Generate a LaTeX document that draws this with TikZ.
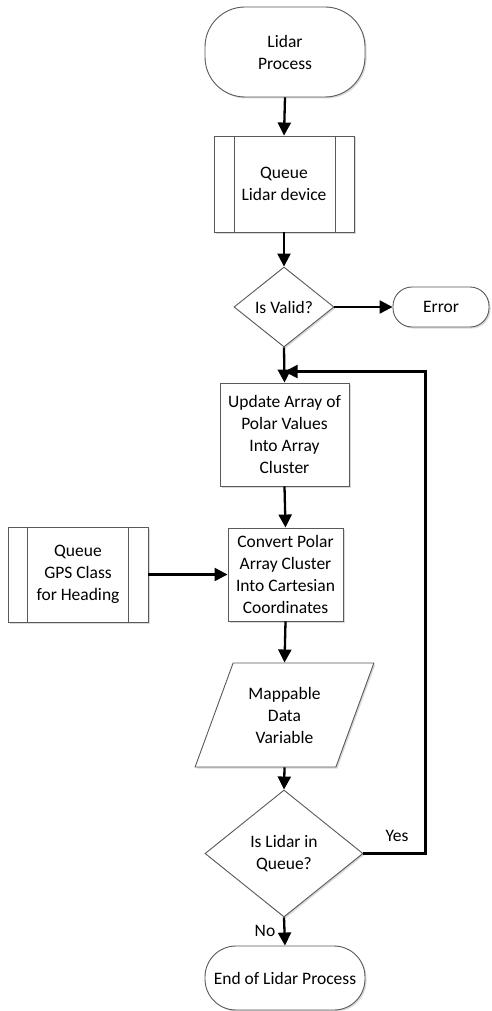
\documentclass[tikz,border=0pt]{standalone}
\usepackage{fontspec}
\setmainfont{Carlito}
\usetikzlibrary{arrows.meta,shapes.geometric,shadows,calc}
\begin{document}
\begin{tikzpicture}[x=1pt,y=-1pt,
  every node/.style={font=\fontsize{17.5}{22}\selectfont, text=black},
  shp/.style={draw=black!65, line width=0.9pt, fill=white, align=center, inner sep=2pt,
    drop shadow={shadow xshift=1.5pt, shadow yshift=-1.5pt, opacity=0.25, fill=black!60}},
  term/.style={shp, rectangle},
  procbox/.style={shp, rectangle},
  decis/.style={shp, diamond, aspect=1.25},
  iobox/.style={shp, trapezium, trapezium left angle=65, trapezium right angle=115, trapezium stretches=true},
  arr/.style={line width=2.3pt, -{Triangle[length=13pt,width=13pt]}},
  inner/.style={draw=black!65, line width=0.9pt}
]
\useasboundingbox (0,0) rectangle (491,1011);

\node[term, rounded corners=40pt, minimum width=160pt, minimum height=90pt] (start) at (285,52) {Lidar\\Process};
\node[procbox, minimum width=140pt, minimum height=96pt] (q1) at (284,184) {Queue\\Lidar device};
\draw[inner] ([xshift=21pt]q1.north west) -- ([xshift=21pt]q1.south west);
\draw[inner] ([xshift=-19pt]q1.north east) -- ([xshift=-19pt]q1.south east);
\node[decis, minimum width=100pt, minimum height=80pt] (valid) at (284,307) {Is Valid?};
\node[term, rounded corners=19pt, minimum width=96pt, minimum height=40pt] (err) at (441,307) {Error};
\node[procbox, minimum width=129pt, minimum height=103pt] (upd) at (284.5,434.5) {Update Array of\\Polar Values\\Into Array\\Cluster};
\node[procbox, minimum width=115pt, minimum height=93pt] (conv) at (285.5,574.5) {Convert Polar\\Array Cluster\\Into Cartesian\\Coordinates};
\node[procbox, minimum width=140pt, minimum height=95pt] (gps) at (78,574.5) {Queue\\GPS Class\\for Heading};
\draw[inner] ([xshift=20pt]gps.north west) -- ([xshift=20pt]gps.south west);
\draw[inner] ([xshift=-20pt]gps.north east) -- ([xshift=-20pt]gps.south east);
\node[iobox, minimum width=179pt, minimum height=104pt] (map) at (284.5,715) {Mappable\\Data\\Variable};
\node[decis, minimum width=158pt, minimum height=127pt] (qd) at (284,853.5) {Is Lidar in\\Queue?};
\node[term, rounded corners=31pt, minimum width=160pt, minimum height=64pt] (end) at (285,978) {End of Lidar Process};

\coordinate (j) at ($(upd.north)+(0,11pt)$);

\draw[arr] (start.south) -- (q1.north);
\draw[arr] (q1.south) -- (valid.north);
\draw[arr] (valid.east) -- (err.west);
\draw[arr] (valid.south) -- (upd.north);
\draw[arr] (upd.south) -- (conv.north);
\draw[arr] (gps.east) -- (conv.west);
\draw[arr] (conv.south) -- (map.north);
\draw[arr] (map.south) -- (qd.north);
\draw[arr] (qd.east) -- ++(62,0) |- (j);
\draw[arr] (qd.south) -- (end.north);

\node (yes) at (397,836) {Yes};
\node (no) at (265,931) {No};
\end{tikzpicture}
\end{document}
